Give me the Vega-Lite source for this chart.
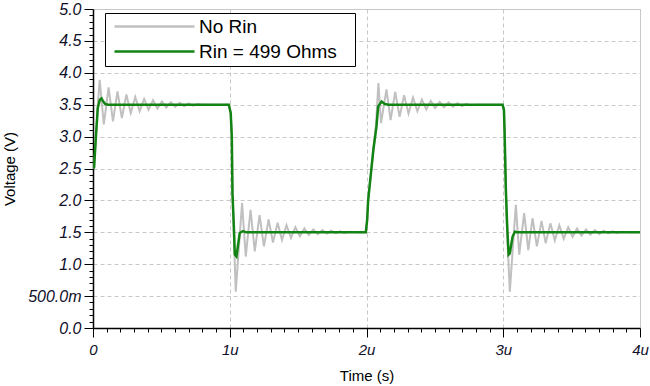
{
  "$schema": "https://vega.github.io/schema/vega-lite/v6.json",
  "width": 547,
  "height": 319,
  "autosize": {"type": "none"},
  "padding": {"left": 93, "top": 9, "right": 10, "bottom": 58},
  "background": "white",
  "config": {
    "font": "Liberation Sans",
    "view": {"stroke": "#c8c8c8", "strokeWidth": 1},
    "axis": {"labelFont": "Liberation Sans", "titleFont": "Liberation Sans", "labelFlush": false, "labelOverlap": false}
  },
  "data": {"values": [
    {"s": "No Rin", "t": 0, "v": 2.5},
    {"s": "No Rin", "t": 0.008, "v": 2.52},
    {"s": "No Rin", "t": 0.02, "v": 2.95},
    {"s": "No Rin", "t": 0.035, "v": 3.5},
    {"s": "No Rin", "t": 0.049, "v": 3.89},
    {"s": "No Rin", "t": 0.079, "v": 3.19},
    {"s": "No Rin", "t": 0.114, "v": 3.77},
    {"s": "No Rin", "t": 0.146, "v": 3.24},
    {"s": "No Rin", "t": 0.179, "v": 3.71},
    {"s": "No Rin", "t": 0.211, "v": 3.29},
    {"s": "No Rin", "t": 0.244, "v": 3.66},
    {"s": "No Rin", "t": 0.276, "v": 3.37},
    {"s": "No Rin", "t": 0.309, "v": 3.62},
    {"s": "No Rin", "t": 0.341, "v": 3.4},
    {"s": "No Rin", "t": 0.374, "v": 3.59},
    {"s": "No Rin", "t": 0.406, "v": 3.42},
    {"s": "No Rin", "t": 0.439, "v": 3.57},
    {"s": "No Rin", "t": 0.471, "v": 3.44},
    {"s": "No Rin", "t": 0.504, "v": 3.55},
    {"s": "No Rin", "t": 0.536, "v": 3.455},
    {"s": "No Rin", "t": 0.569, "v": 3.54},
    {"s": "No Rin", "t": 0.601, "v": 3.465},
    {"s": "No Rin", "t": 0.634, "v": 3.53},
    {"s": "No Rin", "t": 0.666, "v": 3.475},
    {"s": "No Rin", "t": 0.699, "v": 3.52},
    {"s": "No Rin", "t": 0.731, "v": 3.485},
    {"s": "No Rin", "t": 0.764, "v": 3.51},
    {"s": "No Rin", "t": 0.8, "v": 3.5},
    {"s": "No Rin", "t": 0.993, "v": 3.5},
    {"s": "No Rin", "t": 1.007, "v": 3.37},
    {"s": "No Rin", "t": 1.015, "v": 3.0},
    {"s": "No Rin", "t": 1.02, "v": 2.11},
    {"s": "No Rin", "t": 1.03, "v": 1.45},
    {"s": "No Rin", "t": 1.044, "v": 0.57},
    {"s": "No Rin", "t": 1.09, "v": 1.96},
    {"s": "No Rin", "t": 1.117, "v": 1.12},
    {"s": "No Rin", "t": 1.152, "v": 1.85},
    {"s": "No Rin", "t": 1.183, "v": 1.2},
    {"s": "No Rin", "t": 1.218, "v": 1.77},
    {"s": "No Rin", "t": 1.25, "v": 1.28},
    {"s": "No Rin", "t": 1.284, "v": 1.7},
    {"s": "No Rin", "t": 1.316, "v": 1.34},
    {"s": "No Rin", "t": 1.35, "v": 1.65},
    {"s": "No Rin", "t": 1.382, "v": 1.38},
    {"s": "No Rin", "t": 1.415, "v": 1.61},
    {"s": "No Rin", "t": 1.448, "v": 1.41},
    {"s": "No Rin", "t": 1.48, "v": 1.58},
    {"s": "No Rin", "t": 1.513, "v": 1.44},
    {"s": "No Rin", "t": 1.546, "v": 1.56},
    {"s": "No Rin", "t": 1.578, "v": 1.46},
    {"s": "No Rin", "t": 1.611, "v": 1.545},
    {"s": "No Rin", "t": 1.644, "v": 1.47},
    {"s": "No Rin", "t": 1.677, "v": 1.535},
    {"s": "No Rin", "t": 1.71, "v": 1.48},
    {"s": "No Rin", "t": 1.742, "v": 1.525},
    {"s": "No Rin", "t": 1.775, "v": 1.485},
    {"s": "No Rin", "t": 1.808, "v": 1.515},
    {"s": "No Rin", "t": 1.84, "v": 1.49},
    {"s": "No Rin", "t": 1.873, "v": 1.51},
    {"s": "No Rin", "t": 1.92, "v": 1.5},
    {"s": "No Rin", "t": 1.995, "v": 1.5},
    {"s": "No Rin", "t": 2.005, "v": 1.7},
    {"s": "No Rin", "t": 2.012, "v": 2.0},
    {"s": "No Rin", "t": 2.05, "v": 2.79},
    {"s": "No Rin", "t": 2.07, "v": 3.2},
    {"s": "No Rin", "t": 2.087, "v": 3.84},
    {"s": "No Rin", "t": 2.106, "v": 3.21},
    {"s": "No Rin", "t": 2.146, "v": 3.74},
    {"s": "No Rin", "t": 2.176, "v": 3.26},
    {"s": "No Rin", "t": 2.21, "v": 3.7},
    {"s": "No Rin", "t": 2.242, "v": 3.31},
    {"s": "No Rin", "t": 2.275, "v": 3.65},
    {"s": "No Rin", "t": 2.307, "v": 3.36},
    {"s": "No Rin", "t": 2.34, "v": 3.61},
    {"s": "No Rin", "t": 2.372, "v": 3.4},
    {"s": "No Rin", "t": 2.405, "v": 3.58},
    {"s": "No Rin", "t": 2.437, "v": 3.43},
    {"s": "No Rin", "t": 2.47, "v": 3.56},
    {"s": "No Rin", "t": 2.502, "v": 3.45},
    {"s": "No Rin", "t": 2.535, "v": 3.545},
    {"s": "No Rin", "t": 2.567, "v": 3.46},
    {"s": "No Rin", "t": 2.6, "v": 3.535},
    {"s": "No Rin", "t": 2.632, "v": 3.47},
    {"s": "No Rin", "t": 2.665, "v": 3.525},
    {"s": "No Rin", "t": 2.697, "v": 3.48},
    {"s": "No Rin", "t": 2.73, "v": 3.515},
    {"s": "No Rin", "t": 2.762, "v": 3.49},
    {"s": "No Rin", "t": 2.8, "v": 3.5},
    {"s": "No Rin", "t": 2.995, "v": 3.5},
    {"s": "No Rin", "t": 3.005, "v": 3.42},
    {"s": "No Rin", "t": 3.01, "v": 3.06},
    {"s": "No Rin", "t": 3.019, "v": 2.17},
    {"s": "No Rin", "t": 3.028, "v": 1.5},
    {"s": "No Rin", "t": 3.048, "v": 0.57},
    {"s": "No Rin", "t": 3.092, "v": 1.93},
    {"s": "No Rin", "t": 3.117, "v": 1.15},
    {"s": "No Rin", "t": 3.153, "v": 1.8},
    {"s": "No Rin", "t": 3.183, "v": 1.22},
    {"s": "No Rin", "t": 3.214, "v": 1.72},
    {"s": "No Rin", "t": 3.246, "v": 1.28},
    {"s": "No Rin", "t": 3.28, "v": 1.68},
    {"s": "No Rin", "t": 3.31, "v": 1.33},
    {"s": "No Rin", "t": 3.345, "v": 1.64},
    {"s": "No Rin", "t": 3.377, "v": 1.37},
    {"s": "No Rin", "t": 3.41, "v": 1.61},
    {"s": "No Rin", "t": 3.442, "v": 1.4},
    {"s": "No Rin", "t": 3.475, "v": 1.58},
    {"s": "No Rin", "t": 3.507, "v": 1.43},
    {"s": "No Rin", "t": 3.54, "v": 1.56},
    {"s": "No Rin", "t": 3.572, "v": 1.45},
    {"s": "No Rin", "t": 3.605, "v": 1.545},
    {"s": "No Rin", "t": 3.637, "v": 1.465},
    {"s": "No Rin", "t": 3.67, "v": 1.535},
    {"s": "No Rin", "t": 3.702, "v": 1.475},
    {"s": "No Rin", "t": 3.735, "v": 1.525},
    {"s": "No Rin", "t": 3.767, "v": 1.485},
    {"s": "No Rin", "t": 3.8, "v": 1.515},
    {"s": "No Rin", "t": 3.832, "v": 1.49},
    {"s": "No Rin", "t": 3.865, "v": 1.51},
    {"s": "No Rin", "t": 3.91, "v": 1.5},
    {"s": "No Rin", "t": 4.0, "v": 1.5},
    {"s": "Rin = 499 Ohms", "t": 0, "v": 2.5},
    {"s": "Rin = 499 Ohms", "t": 0.008, "v": 2.52},
    {"s": "Rin = 499 Ohms", "t": 0.02, "v": 2.95},
    {"s": "Rin = 499 Ohms", "t": 0.035, "v": 3.45},
    {"s": "Rin = 499 Ohms", "t": 0.05, "v": 3.58},
    {"s": "Rin = 499 Ohms", "t": 0.062, "v": 3.6},
    {"s": "Rin = 499 Ohms", "t": 0.075, "v": 3.55},
    {"s": "Rin = 499 Ohms", "t": 0.09, "v": 3.51},
    {"s": "Rin = 499 Ohms", "t": 0.11, "v": 3.5},
    {"s": "Rin = 499 Ohms", "t": 0.993, "v": 3.5},
    {"s": "Rin = 499 Ohms", "t": 1.007, "v": 3.37},
    {"s": "Rin = 499 Ohms", "t": 1.015, "v": 3.0},
    {"s": "Rin = 499 Ohms", "t": 1.02, "v": 2.11},
    {"s": "Rin = 499 Ohms", "t": 1.03, "v": 1.59},
    {"s": "Rin = 499 Ohms", "t": 1.037, "v": 1.15},
    {"s": "Rin = 499 Ohms", "t": 1.049, "v": 1.12},
    {"s": "Rin = 499 Ohms", "t": 1.073, "v": 1.49},
    {"s": "Rin = 499 Ohms", "t": 1.097, "v": 1.52},
    {"s": "Rin = 499 Ohms", "t": 1.12, "v": 1.5},
    {"s": "Rin = 499 Ohms", "t": 1.995, "v": 1.5},
    {"s": "Rin = 499 Ohms", "t": 2.005, "v": 1.7},
    {"s": "Rin = 499 Ohms", "t": 2.012, "v": 2.0},
    {"s": "Rin = 499 Ohms", "t": 2.05, "v": 2.79},
    {"s": "Rin = 499 Ohms", "t": 2.073, "v": 3.16},
    {"s": "Rin = 499 Ohms", "t": 2.085, "v": 3.47},
    {"s": "Rin = 499 Ohms", "t": 2.11, "v": 3.55},
    {"s": "Rin = 499 Ohms", "t": 2.134, "v": 3.51},
    {"s": "Rin = 499 Ohms", "t": 2.16, "v": 3.5},
    {"s": "Rin = 499 Ohms", "t": 2.995, "v": 3.5},
    {"s": "Rin = 499 Ohms", "t": 3.005, "v": 3.42},
    {"s": "Rin = 499 Ohms", "t": 3.01, "v": 3.06},
    {"s": "Rin = 499 Ohms", "t": 3.019, "v": 2.17},
    {"s": "Rin = 499 Ohms", "t": 3.028, "v": 1.64},
    {"s": "Rin = 499 Ohms", "t": 3.039, "v": 1.15},
    {"s": "Rin = 499 Ohms", "t": 3.048, "v": 1.17},
    {"s": "Rin = 499 Ohms", "t": 3.068, "v": 1.43},
    {"s": "Rin = 499 Ohms", "t": 3.085, "v": 1.51},
    {"s": "Rin = 499 Ohms", "t": 3.1, "v": 1.5},
    {"s": "Rin = 499 Ohms", "t": 4.0, "v": 1.5}
  ]},
  "layer": [
    {
      "transform": [{"filter": "datum.s == 'No Rin'"}],
      "mark": {"type": "line", "strokeWidth": 2, "clip": true},
      "encoding": {
        "x": {"field": "t", "type": "quantitative",
          "scale": {"domain": [0, 4], "nice": false, "zero": false},
          "axis": {"orient": "bottom", "values": [0, 1, 2, 3, 4],
            "labelExpr": "datum.value == 0 ? '0' : datum.value + 'u'",
            "labelFontStyle": "italic", "labelFontSize": 15, "labelColor": "#10102a",
            "labelPadding": 5, "tickSize": 9, "tickColor": "#000", "tickWidth": 1,
            "domainColor": "#000", "domainWidth": 1.5,
            "grid": true, "gridColor": "#c8c8c8", "gridDash": [4, 3], "gridWidth": 1,
            "title": "Time (s)", "titleFontSize": 15, "titleFontWeight": "normal",
            "titleColor": "#000", "titlePadding": 11}},
        "y": {"field": "v", "type": "quantitative",
          "scale": {"domain": [0, 5], "nice": false, "zero": false},
          "axis": {"orient": "left", "values": [0, 0.5, 1, 1.5, 2, 2.5, 3, 3.5, 4, 4.5, 5],
            "labelExpr": "datum.value == 0.5 ? '500.0m' : format(datum.value, '.1f')",
            "labelFontStyle": "italic", "labelFontSize": 16, "labelColor": "#10102a",
            "labelPadding": 3, "tickSize": 9, "tickColor": "#000", "tickWidth": 1,
            "domainColor": "#000", "domainWidth": 1.5,
            "grid": true, "gridColor": "#c8c8c8", "gridDash": [4, 3], "gridWidth": 1,
            "title": "Voltage (V)", "titleFontSize": 15, "titleFontWeight": "normal",
            "titleColor": "#000", "titlePadding": 10}},
        "color": {"field": "s", "type": "nominal",
          "scale": {"domain": ["No Rin", "Rin = 499 Ohms"], "range": ["#c0c0c0", "#138313"]},
          "legend": {"orient": "none", "legendX": 12, "legendY": 4,
            "title": "\u00a0", "titleOrient": "right", "titlePadding": 14, "titleFontSize": 10,
            "strokeColor": "#000", "fillColor": "#fff", "padding": 4,
            "labelFont": "Liberation Sans", "labelFontSize": 19, "labelColor": "#000",
            "symbolType": "M-0.5,0H9.5", "symbolSize": 256, "symbolStrokeWidth": 2.5,
            "labelOffset": 71, "rowPadding": 5}}
      }
    },
    {
      "transform": [{"filter": "datum.s == 'Rin = 499 Ohms'"}],
      "mark": {"type": "line", "strokeWidth": 2.5, "clip": true},
      "encoding": {
        "x": {"field": "t", "type": "quantitative",
          "axis": {"orient": "bottom", "values": [0.1, 0.2, 0.3, 0.4, 0.5, 0.6, 0.7, 0.8, 0.9, 1.1, 1.2, 1.3, 1.4, 1.5, 1.6, 1.7, 1.8, 1.9, 2.1, 2.2, 2.3, 2.4, 2.5, 2.6, 2.7, 2.8, 2.9, 3.1, 3.2, 3.3, 3.4, 3.5, 3.6, 3.7, 3.8, 3.9],
            "labels": false, "domain": false, "grid": false, "tickSize": 4,
            "tickColor": "#000", "title": null}},
        "y": {"field": "v", "type": "quantitative",
          "axis": {"orient": "left", "values": [0.1, 0.2, 0.3, 0.4, 0.6, 0.7, 0.8, 0.9, 1.1, 1.2, 1.3, 1.4, 1.6, 1.7, 1.8, 1.9, 2.1, 2.2, 2.3, 2.4, 2.6, 2.7, 2.8, 2.9, 3.1, 3.2, 3.3, 3.4, 3.6, 3.7, 3.8, 3.9, 4.1, 4.2, 4.3, 4.4, 4.6, 4.7, 4.8, 4.9],
            "labels": false, "domain": false, "grid": false, "tickSize": 4,
            "tickColor": "#000", "title": null}},
        "color": {"field": "s", "type": "nominal"}
      }
    }
  ],
  "resolve": {"axis": {"x": "independent", "y": "independent"}}
}
